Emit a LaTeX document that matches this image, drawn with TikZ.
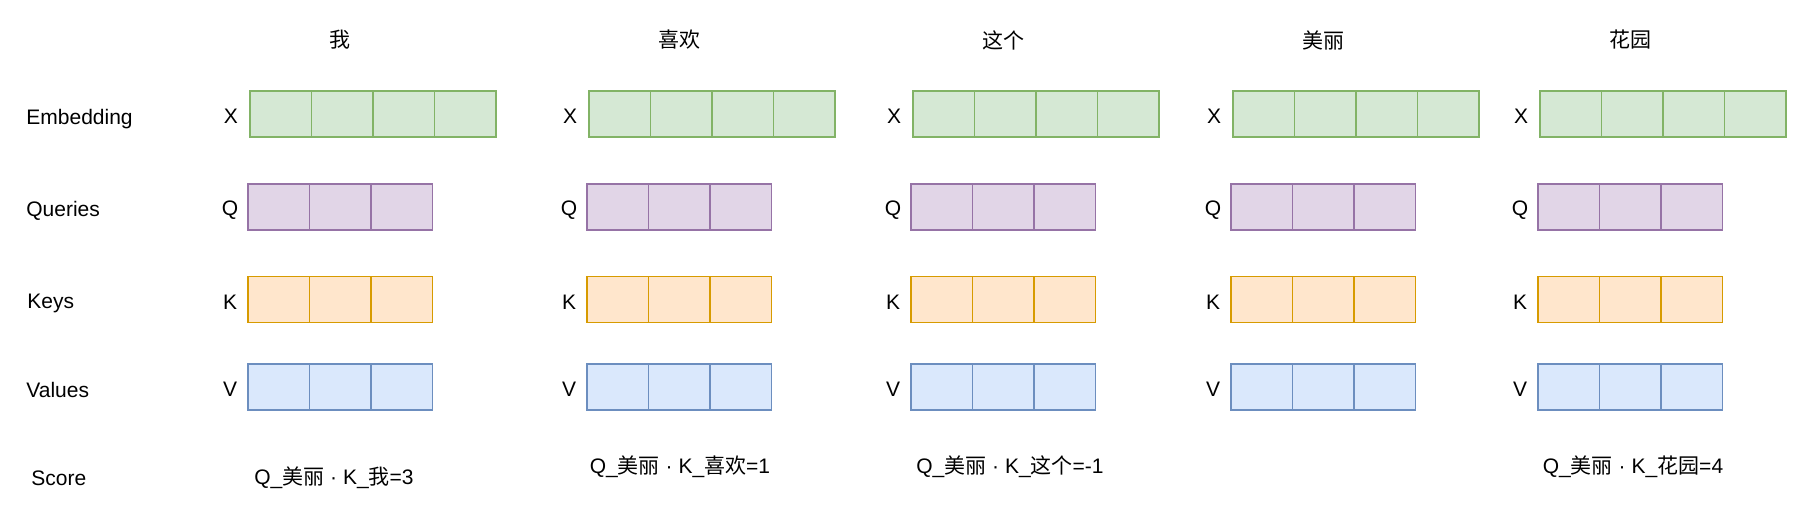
\documentclass[tikz,border=0pt]{standalone}
\usepackage{fontspec}
\setmainfont{Liberation Sans}
\newfontfamily\cjk{Noto Sans CJK SC}
\usetikzlibrary{positioning}

\definecolor{embfill}{HTML}{D5E8D4}
\definecolor{embdraw}{HTML}{82B366}
\definecolor{qfill}{HTML}{E1D5E7}
\definecolor{qdraw}{HTML}{9673A6}
\definecolor{kfill}{HTML}{FFE6CC}
\definecolor{kdraw}{HTML}{D79B00}
\definecolor{vfill}{HTML}{DAE8FC}
\definecolor{vdraw}{HTML}{6C8EBF}

\begin{document}
\begin{tikzpicture}[
    x=0.5pt, y=-0.5pt,
    font=\fontsize{10.5}{12}\selectfont,
    cell/.style={
        rectangle,
        line width=0.75pt,
        minimum width=30.75pt,
        minimum height=23pt,
        inner sep=0pt,
        outer sep=0pt
    },
    bar/.style={rectangle, minimum height=23pt, inner sep=0pt, outer sep=0pt},
    xbar/.style={bar, fill=embfill, minimum width=123pt},
    qbar/.style={bar, fill=qfill, minimum width=92.25pt},
    kbar/.style={bar, fill=kfill, minimum width=92.25pt},
    vbar/.style={bar, fill=vfill, minimum width=92.25pt},
    xcell/.style={cell, draw=embdraw},
    qcell/.style={cell, draw=qdraw},
    kcell/.style={cell, draw=kdraw},
    vcell/.style={cell, draw=vdraw},
    rowlabel/.style={anchor=west, inner sep=0pt}
]
\useasboundingbox (0,0) rectangle (1818,504);

% --- Etiquetas de fila ---
\node[rowlabel] (lblemb) at (26,119) {Embedding};
\node[rowlabel] (lblq) at (26,211) {Queries};
\node[rowlabel] (lblk) at (27,303) {Keys};
\node[rowlabel] (lblv) at (26,390) {Values};
\node[rowlabel] (lblscore) at (31,478) {Score};

% --- Columnas por palabra ---
\foreach \c/\xl/\word in {1/250/我, 2/589/喜欢, 3/913/这个, 4/1233/美丽, 5/1540/花园} {
    \node (title\c) at (\xl+90,40) {\cjk \word};
    \node (xlab\c) at (\xl-19,116) {X};
    \node (qlab\c) at (\xl-20,210) {Q};
    \node (klab\c) at (\xl-20,302) {K};
    \node (vlab\c) at (\xl-20,389) {V};
    \node[xbar] (xbar\c) at (\xl+123,114) {};
    \node[qbar] (qbar\c) at (\xl-2+92.25,207) {};
    \node[kbar] (kbar\c) at (\xl-2+92.25,299.5) {};
    \node[vbar] (vbar\c) at (\xl-2+92.25,387) {};
    \foreach \i in {1,...,4}
        \node[xcell] (x\c-\i) at (\xl+61.5*\i-30.75,114) {};
    \foreach \i in {1,2,3} {
        \node[qcell] (q\c-\i) at (\xl-2+61.5*\i-30.75,207) {};
        \node[kcell] (k\c-\i) at (\xl-2+61.5*\i-30.75,299.5) {};
        \node[vcell] (v\c-\i) at (\xl-2+61.5*\i-30.75,387) {};
    }
}

% --- Puntuaciones ---
\node (score1) at (334,478) {Q\_{\cjk 美丽} · K\_{\cjk 我}=3};
\node (score2) at (680,467) {Q\_{\cjk 美丽} · K\_{\cjk 喜欢}=1};
\node (score3) at (1010,467) {Q\_{\cjk 美丽} · K\_{\cjk 这个}=-1};
\node (score5) at (1633,467) {Q\_{\cjk 美丽} · K\_{\cjk 花园}=4};

\end{tikzpicture}
\end{document}
